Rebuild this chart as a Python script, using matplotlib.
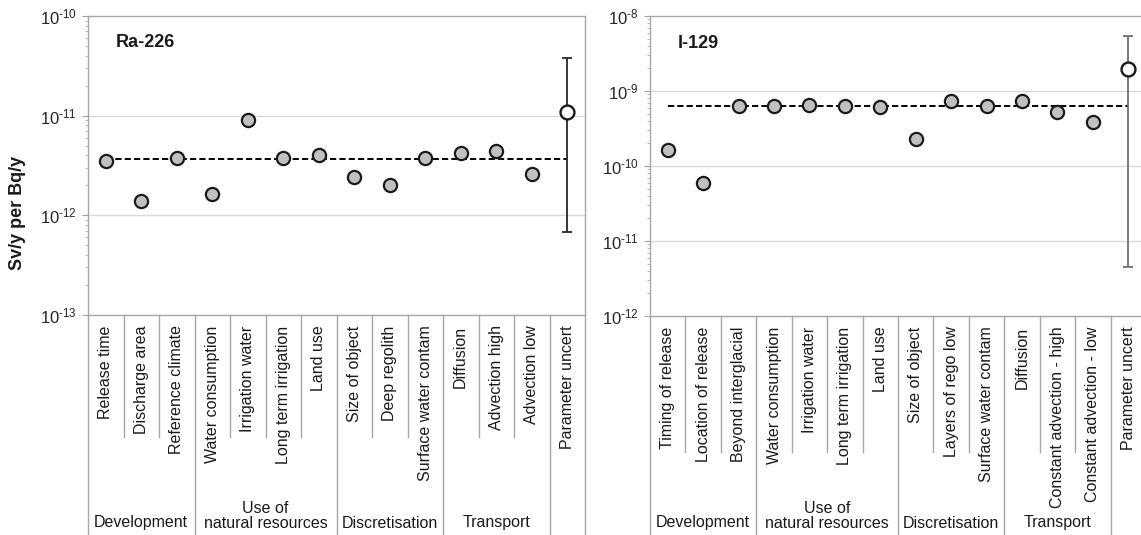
import math
import matplotlib
matplotlib.use("Agg")
import matplotlib.pyplot as plt
import matplotlib.transforms as mtransforms
from matplotlib.ticker import LogLocator, FixedLocator, NullFormatter

plt.rcParams['font.family'] = ['Liberation Sans', 'DejaVu Sans']
plt.rcParams['mathtext.fontset'] = 'custom'
plt.rcParams['mathtext.rm'] = 'Liberation Sans'
plt.rcParams['mathtext.it'] = 'Liberation Sans:italic'
plt.rcParams['mathtext.bf'] = 'Liberation Sans:bold'

# ---------------- data ----------------
groups = ["Development", "Use of\nnatural resources", "Discretisation", "Transport", ""]
group_sizes = [3, 4, 3, 3, 1]

ra_labels = ["Release time", "Discharge area", "Reference climate",
             "Water consumption", "Irrigation water", "Long term irrigation", "Land use",
             "Size of object", "Deep regolith", "Surface water contam",
             "Diffusion", "Advection high", "Advection low", "Parameter uncert"]
ra_values = [3.5e-12, 1.38e-12, 3.73e-12,
             1.65e-12, 9.1e-12, 3.73e-12, 4.03e-12,
             2.44e-12, 2.03e-12, 3.73e-12,
             4.19e-12, 4.42e-12, 2.6e-12]
ra_reference = 3.7e-12
ra_param = 1.1e-11
ra_param_low = 6.8e-13
ra_param_high = 3.76e-11

i_labels = ["Timing of release", "Location of release", "Beyond interglacial",
            "Water consumption", "Irrigation water", "Long term irrigation", "Land use",
            "Size of object", "Layers of rego low", "Surface water contam",
            "Diffusion", "Constant advection - high", "Constant advection - low",
            "Parameter uncert"]
i_values = [1.63e-10, 5.93e-11, 6.31e-10,
            6.31e-10, 6.44e-10, 6.3e-10, 6.18e-10,
            2.31e-10, 7.43e-10, 6.3e-10,
            7.28e-10, 5.25e-10, 3.86e-10]
i_reference = 6.3e-10
i_param = 1.99e-9
i_param_low = 4.55e-12
i_param_high = 5.41e-9

W, H = 1141, 535
fig = plt.figure(figsize=(W / 100, H / 100), dpi=100)


def px_axes(x0, y0, x1, y1):
    return fig.add_axes([x0 / W, 1 - y1 / H, (x1 - x0) / W, (y1 - y0) / H])


def draw_panel(ax, labels, values, ref, pval, plow, phigh, ylim, title,
               y_short, y_long, y_group, y_group2, errcolor):
    n = len(labels)
    xs = list(range(1, n + 1))
    ax.set_xlim(0.5, n + 0.5)
    ax.set_yscale('log')
    ax.set_ylim(*ylim)
    lo, hi = int(round(math.log10(ylim[0]))), int(round(math.log10(ylim[1])))
    decades = [10.0 ** e for e in range(lo, hi + 1)]
    ax.yaxis.set_major_locator(FixedLocator(decades))
    ax.set_yticklabels([r'$10^{\text{-%d}}$' % (-e) for e in range(lo, hi + 1)])
    ax.yaxis.set_minor_locator(LogLocator(base=10, subs=range(2, 10), numticks=50))
    ax.yaxis.set_minor_formatter(NullFormatter())
    for d in decades[1:-1]:
        ax.axhline(d, color='#d9d9d9', lw=1.0, zorder=0)
    ax.tick_params(axis='y', which='major', direction='out', length=4, width=0.8,
                   color='#a0a0a0', labelsize=12, labelcolor='#262626', pad=4)
    ax.tick_params(axis='y', which='minor', direction='out', length=2.5, width=0.6,
                   color='#b0b0b0')
    ax.set_xticks([])
    for s in ax.spines.values():
        s.set_color('#a6a6a6')
        s.set_linewidth(1.0)

    # reference dashed line through category centres
    ax.plot([xs[0], xs[-1]], [ref, ref], ls=(0, (3.2, 1.6)), color='black', lw=1.4, zorder=2)
    # sensitivity cases
    ax.plot(xs[:-1], values, ls='none', marker='o', ms=9.5, mfc='#c0c0c0',
            mec='#1a1a1a', mew=1.6, zorder=3)
    # parameter uncertainty
    ax.errorbar([xs[-1]], [pval], yerr=[[pval - plow], [phigh - pval]], fmt='none',
                ecolor=errcolor, elinewidth=1.3, capsize=3.5, capthick=1.3, zorder=2)
    ax.plot([xs[-1]], [pval], ls='none', marker='o', ms=10, mfc='white',
            mec='#1a1a1a', mew=1.7, zorder=4)

    ax.text(0.055, 0.91, title, transform=ax.transAxes, fontsize=13,
            fontweight='bold', ha='left', va='center', color='#1a1a1a')

    # category labels & separators below axis
    trans = mtransforms.blended_transform_factory(ax.transData, ax.transAxes)
    for x, lab in zip(xs, labels):
        ax.text(x, -0.035, lab, rotation=90, ha='center', va='top', fontsize=11.5,
                color='#1a1a1a', transform=trans, clip_on=False)
    bounds = [0.5]
    c = 0.5
    for g in group_sizes:
        c += g
        bounds.append(c)
    for b in range(1, n):
        xb = b + 0.5
        yb = y_long if xb in bounds else y_short
        ax.plot([xb, xb], [0, yb], color='#a6a6a6', lw=1.0, transform=trans,
                clip_on=False)
    for xb in (0.5, n + 0.5):
        ax.plot([xb, xb], [0, y_long], color='#a6a6a6', lw=1.0, transform=trans,
                clip_on=False)
    for gi, g in enumerate(groups):
        if not g:
            continue
        xc = (bounds[gi] + bounds[gi + 1]) / 2
        yy = y_group2 if '\n' in g else y_group
        ax.text(xc, yy, g, ha='center', va='center', fontsize=11.5,
                color='#1a1a1a', transform=trans, clip_on=False, linespacing=1.05)


ax1 = px_axes(88, 16, 585, 315)
draw_panel(ax1, ra_labels, ra_values, ra_reference, ra_param, ra_param_low,
           ra_param_high, (1e-13, 1e-10), "Ra-226",
           (315 - 437) / 299, -0.8, (315 - 523) / 299, (315 - 516) / 299, '#262626')

ax2 = px_axes(650, 16, 1146, 316)
draw_panel(ax2, i_labels, i_values, i_reference, i_param, i_param_low,
           i_param_high, (1e-12, 1e-8), "I-129",
           (316 - 452) / 300, -0.8, (316 - 523) / 300, (316 - 516) / 300, '#707070')

fig.text(18 / W, 1 - 213 / H, "Sv/y per Bq/y", rotation=90, ha='center', va='center',
         fontsize=13, fontweight='bold', color='#1a1a1a')

fig.savefig("out.png", dpi=100)
